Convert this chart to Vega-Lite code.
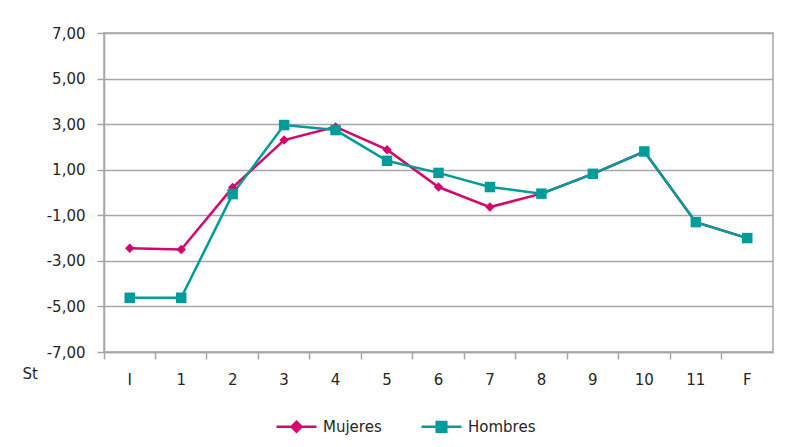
{
  "$schema": "https://vega.github.io/schema/vega-lite/v6.json",
  "autosize": "none",
  "width": 669,
  "height": 319,
  "padding": {"left": 104, "top": 33, "right": 14, "bottom": 95},
  "background": "white",
  "config": {
    "font": "DejaVu Sans",
    "view": {"stroke": "#a6a6a6", "strokeWidth": 1.5},
    "axis": {"labelFont": "DejaVu Sans", "labelFontSize": 15, "labelColor": "#262626", "domainColor": "#a6a6a6", "tickColor": "#a6a6a6", "gridColor": "#a6a6a6", "domainWidth": 1.5, "tickWidth": 1.5, "gridWidth": 1.5}
  },
  "data": {
    "values": [
      {"periodo": "I", "sexo": "Mujeres", "valor": -2.45},
      {"periodo": "1", "sexo": "Mujeres", "valor": -2.5},
      {"periodo": "2", "sexo": "Mujeres", "valor": 0.22},
      {"periodo": "3", "sexo": "Mujeres", "valor": 2.3},
      {"periodo": "4", "sexo": "Mujeres", "valor": 2.88},
      {"periodo": "5", "sexo": "Mujeres", "valor": 1.88},
      {"periodo": "6", "sexo": "Mujeres", "valor": 0.24},
      {"periodo": "7", "sexo": "Mujeres", "valor": -0.64},
      {"periodo": "8", "sexo": "Mujeres", "valor": -0.05},
      {"periodo": "9", "sexo": "Mujeres", "valor": 0.82},
      {"periodo": "10", "sexo": "Mujeres", "valor": 1.8},
      {"periodo": "11", "sexo": "Mujeres", "valor": -1.3},
      {"periodo": "F", "sexo": "Mujeres", "valor": -2.0},
      {"periodo": "I", "sexo": "Hombres", "valor": -4.62},
      {"periodo": "1", "sexo": "Hombres", "valor": -4.62},
      {"periodo": "2", "sexo": "Hombres", "valor": -0.07},
      {"periodo": "3", "sexo": "Hombres", "valor": 2.96},
      {"periodo": "4", "sexo": "Hombres", "valor": 2.74},
      {"periodo": "5", "sexo": "Hombres", "valor": 1.39},
      {"periodo": "6", "sexo": "Hombres", "valor": 0.86},
      {"periodo": "7", "sexo": "Hombres", "valor": 0.24},
      {"periodo": "8", "sexo": "Hombres", "valor": -0.05},
      {"periodo": "9", "sexo": "Hombres", "valor": 0.82},
      {"periodo": "10", "sexo": "Hombres", "valor": 1.8},
      {"periodo": "11", "sexo": "Hombres", "valor": -1.3},
      {"periodo": "F", "sexo": "Hombres", "valor": -2.0}
    ]
  },
  "encoding": {
    "x": {
      "field": "periodo", "type": "ordinal", "sort": null,
      "scale": {"type": "band", "paddingInner": 0, "paddingOuter": 0, "domain": ["I","1","2","3","4","5","6","7","8","9","10","11","F"]},
      "axis": {"title": "St", "titleFont": "DejaVu Sans", "titleFontSize": 15, "titleFontWeight": "normal", "titleColor": "#262626", "titleAnchor": "start", "titleAlign": "left", "titleBaseline": "middle", "titleX": -82, "titleY": 21, "bandPosition": 0, "labelAngle": 0, "tickSize": 7, "labelBaseline": "middle", "labelPadding": 20, "grid": false}
    },
    "y": {
      "field": "valor", "type": "quantitative",
      "scale": {"domain": [-7, 7], "nice": false, "zero": false},
      "axis": {"title": null, "values": [-7,-5,-3,-1,1,3,5,7], "tickSize": 7, "labelPadding": 12, "grid": true, "labelExpr": "(datum.value < 0 ? '-' : '') + replace(format(abs(datum.value), '.2f'), '.', ',')"}
    },
    "color": {
      "field": "sexo", "type": "nominal",
      "scale": {"domain": ["Mujeres", "Hombres"], "range": ["#d4086c", "#009c9a"]},
      "legend": {
        "title": null, "orient": "none", "direction": "horizontal", "legendX": 171, "legendY": 372,
        "symbolSize": 1600, "symbolStrokeWidth": 2.5, "labelFontSize": 15, "labelColor": "#262626", "labelFont": "DejaVu Sans", "columnPadding": 34, "labelOffset": 5,
        "encode": {"symbols": {"update": {
          "shape": {"signal": "datum.value === 'Mujeres' ? 'M-1,0H1M0,-0.25L0.25,0L0,0.25L-0.25,0Z' : 'M-1,0H1M-0.24,-0.24H0.24V0.24H-0.24Z'"},
          "fill": {"scale": "color", "field": "value"},
          "stroke": {"scale": "color", "field": "value"},
          "strokeWidth": {"value": 2.5},
          "opacity": {"value": 1}
        }}}
      }
    }
  },
  "layer": [
    {"mark": {"type": "line", "strokeWidth": 2.5}},
    {"transform": [{"filter": "datum.sexo === 'Mujeres'"}], "mark": {"type": "point", "shape": "diamond", "filled": true, "opacity": 1, "size": 90}},
    {"transform": [{"filter": "datum.sexo === 'Hombres'"}], "mark": {"type": "point", "shape": "square", "filled": true, "opacity": 1, "size": 110}}
  ]
}
